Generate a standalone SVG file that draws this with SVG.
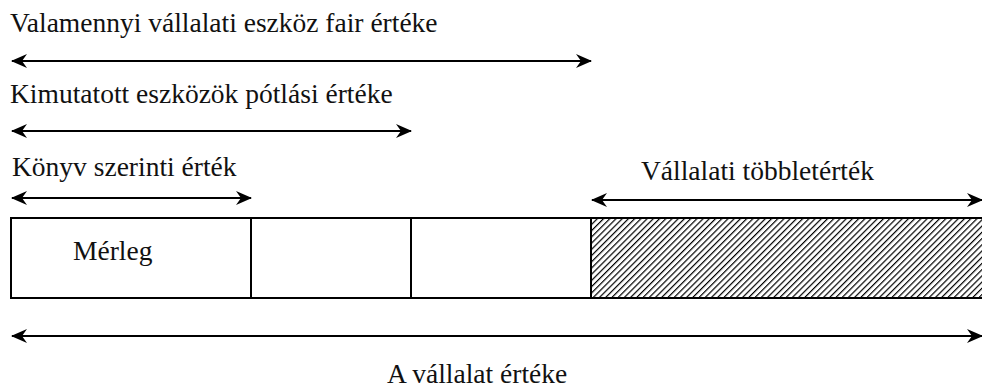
<svg xmlns="http://www.w3.org/2000/svg" width="982" height="388" viewBox="0 0 982 388">
<defs>
<marker id="ah" viewBox="0 0 16 14" refX="15" refY="7" markerWidth="16" markerHeight="14" markerUnits="userSpaceOnUse" orient="auto-start-reverse">
<path d="M0,0 L16,7 L0,14 L5,7 Z" fill="#000"/>
</marker>
<pattern id="hatch" patternUnits="userSpaceOnUse" width="4.4" height="4.4" patternTransform="rotate(45)">
<rect width="4.4" height="4.4" fill="#fff"/>
<line x1="0" y1="0" x2="0" y2="4.4" stroke="#000" stroke-width="2.4"/>
</pattern>
</defs>
<g id="labels">
<text x="10" y="32" font-family="Liberation Serif" font-size="27.5" fill="#111">Valamennyi vállalati eszköz fair értéke</text>
<text x="10" y="103" font-family="Liberation Serif" font-size="27.5" fill="#111">Kimutatott eszközök pótlási értéke</text>
<text x="12" y="176" font-family="Liberation Serif" font-size="27.5" fill="#111">Könyv szerinti érték</text>
<text x="641" y="180" font-family="Liberation Serif" font-size="27.5" fill="#111">Vállalati többletérték</text>
<text x="387" y="383" font-family="Liberation Serif" font-size="27.5" fill="#111">A vállalat értéke</text>
</g>
<g id="bar" stroke="#000" stroke-width="2">
<rect id="seg1" x="11" y="218" width="240" height="80" fill="#fff"/>
<rect id="seg2" x="251" y="218" width="160" height="80" fill="#fff"/>
<rect id="seg3" x="411" y="218" width="180" height="80" fill="#fff"/>
<rect id="seg4" x="591" y="218" width="392" height="80" fill="url(#hatch)"/>
</g>
<g id="bar-label">
<text x="73" y="260" font-family="Liberation Serif" font-size="27.5" fill="#111">Mérleg</text>
</g>
<g id="connectors" stroke="#000" stroke-width="2.2" fill="none">
<line x1="12" y1="61" x2="591" y2="61" marker-start="url(#ah)" marker-end="url(#ah)"/>
<line x1="12" y1="131" x2="411" y2="131" marker-start="url(#ah)" marker-end="url(#ah)"/>
<line x1="12" y1="198" x2="251" y2="198" marker-start="url(#ah)" marker-end="url(#ah)"/>
<line x1="592" y1="200" x2="982" y2="200" marker-start="url(#ah)" marker-end="url(#ah)"/>
<line x1="12" y1="336" x2="982" y2="336" marker-start="url(#ah)" marker-end="url(#ah)"/>
</g>
</svg>
